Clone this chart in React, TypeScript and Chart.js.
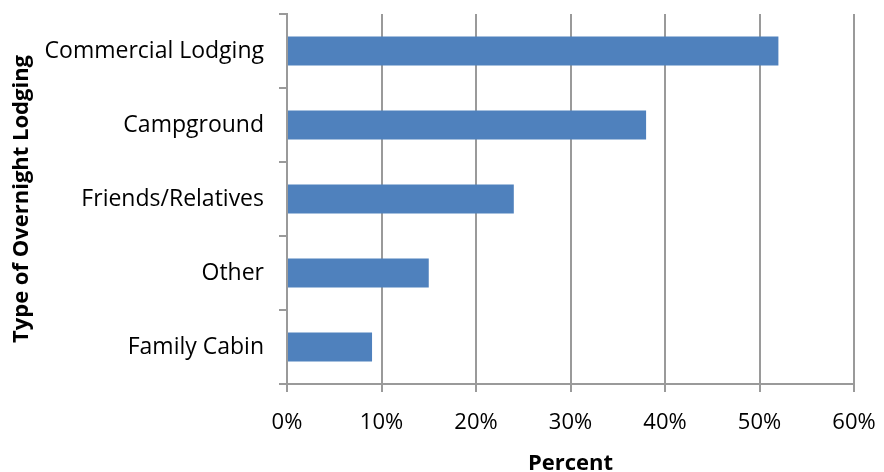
import React, { useEffect, useRef } from "react";
import { Chart, registerables } from "chart.js";

Chart.register(...registerables);

const categories = ["Commercial Lodging", "Campground", "Friends/Relatives", "Other", "Family Cabin"];
const percentValues = [52, 38, 24, 15, 9];
const xTicks = [0, 10, 20, 30, 40, 50, 60];
const xTitle = "Percent";
const yTitle = "Type of Overnight Lodging";

const FONT = "'Open Sans', sans-serif";

export default function App() {
  const ref = useRef<HTMLCanvasElement | null>(null);

  useEffect(() => {
    if (!ref.current) return;
    const chart = new Chart(ref.current, {
      type: "bar",
      data: {
        labels: categories,
        datasets: [
          {
            data: percentValues,
            backgroundColor: "#4F81BD",
            borderWidth: 0,
            barPercentage: 0.39,
            categoryPercentage: 1,
          },
        ],
      },
      options: {
        indexAxis: "y",
        animation: false,
        responsive: false,
        maintainAspectRatio: false,
        layout: { padding: { top: 14, right: 30, left: 0, bottom: 0 } },
        plugins: { legend: { display: false }, tooltip: { enabled: false } },
        scales: {
          x: {
            min: 0,
            max: 60,
            afterBuildTicks: (s: any) => {
              s.ticks = xTicks.map((v) => ({ value: v }));
            },
            afterFit: (s: any) => {
              s.height = 88;
              s.paddingLeft = 0;
              s.paddingRight = 0;
              s.paddingTop = 0;
              s.paddingBottom = 0;
            },
            grid: {
              color: "#9a9a9a",
              lineWidth: 2,
              tickLength: 8,
              drawTicks: true,
            },
            border: { color: "#9a9a9a", width: 2 },
            ticks: {
              color: "#000",
              font: { family: FONT, size: 22 },
              padding: 18,
              callback: (v: any) => v + "%",
            },
            title: {
              display: true,
              text: xTitle,
              color: "#000",
              font: { family: FONT, size: 22, weight: "bold", lineHeight: 1 },
              padding: { top: 0, bottom: -3 },
            },
          },
          y: {
            afterFit: (s: any) => {
              s.width = 287;
              s.paddingLeft = 0;
              s.paddingRight = 0;
              s.paddingTop = 0;
              s.paddingBottom = 0;
            },
            grid: {
              color: "#9a9a9a",
              lineWidth: 2,
              tickLength: 8,
              drawOnChartArea: false,
              offset: true,
            },
            border: { color: "#9a9a9a", width: 2 },
            ticks: {
              color: "#000",
              font: { family: FONT, size: 23 },
              padding: 15,
            },
            title: {
              display: true,
              text: yTitle,
              color: "#000",
              font: { family: FONT, size: 22, weight: "bold", lineHeight: 1 },
              padding: { top: 11, bottom: 0 },
            },
          },
        },
      },
    });
    return () => chart.destroy();
  }, []);

  return (
    <div style={{ position: "fixed", left: 0, top: 0, width: 884, height: 472, background: "#fff" }}>
      <canvas ref={ref} width={884} height={472} style={{ width: 884, height: 472 }} />
    </div>
  );
}
